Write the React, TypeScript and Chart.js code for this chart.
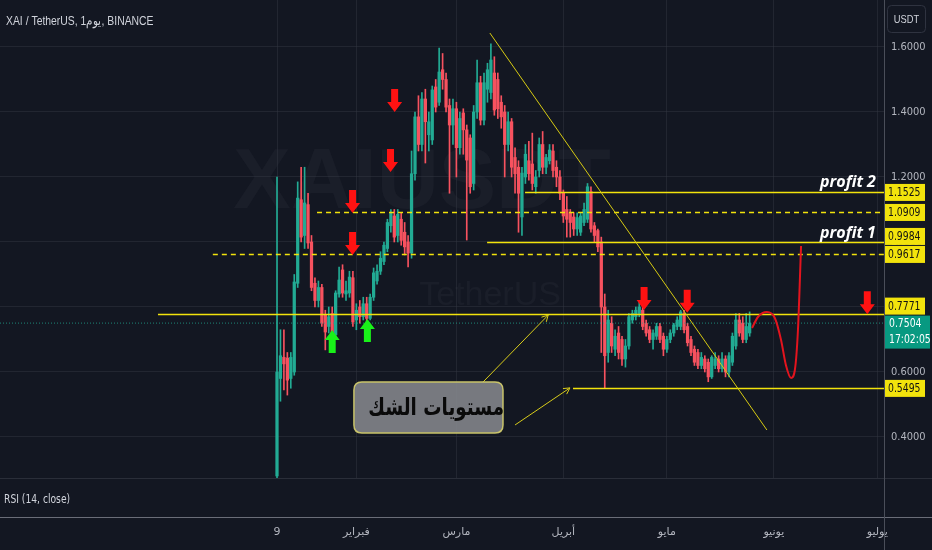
import React, { useEffect, useRef } from 'react';
import { Chart, registerables } from 'chart.js';

Chart.register(...registerables);

// XAI / TetherUS daily candles, first candle 2024-01-09 (x = day offset)
const opens = [
  0.28, 0.58, 0.645, 0.643, 0.58, 0.6, 0.873, 1.13, 1.02, 1.115,
  1.0, 0.873, 0.82, 0.86, 0.775, 0.74, 0.78, 0.715, 0.84, 0.914,
  0.84, 0.843, 0.89, 0.76, 0.8, 0.77, 0.81, 0.765, 0.83, 0.88,
  0.91, 0.94, 0.98, 1.05, 1.08, 1.02, 1.07, 1.03, 1.0, 0.966,
  1.21, 1.385, 1.3, 1.44, 1.33, 1.314, 1.477, 1.43, 1.53, 1.5,
  1.42, 1.36, 1.41, 1.29, 1.397, 1.345, 1.32, 1.18, 1.4, 1.49,
  1.375, 1.47, 1.46, 1.52, 1.5, 1.43, 1.4, 1.3, 1.37, 1.26,
  1.23, 1.077, 1.2, 1.25, 1.24, 1.17, 1.22, 1.3, 1.23, 1.25,
  1.28, 1.23, 1.2, 1.15, 1.1, 1.09, 1.077, 1.04, 1.03, 1.06,
  1.07, 1.155, 1.05, 1.035, 1.0, 0.8, 0.66, 0.75, 0.67, 0.72,
  0.7, 0.64, 0.68, 0.76, 0.77, 0.78, 0.79, 0.75, 0.73, 0.7,
  0.71, 0.74, 0.71, 0.67, 0.7, 0.72, 0.74, 0.74, 0.78, 0.74,
  0.7, 0.67, 0.66, 0.62, 0.64, 0.63, 0.585, 0.62, 0.64, 0.61,
  0.64, 0.6, 0.63, 0.68, 0.76, 0.75, 0.7, 0.72,
];
const highs = [
  1.2, 0.73, 0.73, 0.66, 0.66, 0.9, 1.185, 1.23, 1.23, 1.15,
  1.02, 0.89, 0.88, 0.87, 0.79, 0.8, 0.8, 0.85, 0.923, 0.93,
  0.88, 0.91, 0.91, 0.81, 0.82, 0.83, 0.83, 0.84, 0.92, 0.93,
  0.97, 1.0, 1.07, 1.1, 1.1, 1.1, 1.09, 1.06, 1.02, 1.28,
  1.4, 1.45, 1.46, 1.47, 1.4, 1.48, 1.5, 1.597, 1.58, 1.52,
  1.44, 1.44, 1.43, 1.4, 1.41, 1.36, 1.33, 1.42, 1.56, 1.51,
  1.52, 1.55, 1.61, 1.57, 1.52, 1.45, 1.42, 1.4, 1.38, 1.29,
  1.25, 1.23, 1.3, 1.31, 1.335, 1.22, 1.32, 1.34, 1.27, 1.3,
  1.3, 1.25, 1.22, 1.16, 1.14, 1.1, 1.09, 1.09, 1.09, 1.12,
  1.18, 1.17, 1.06, 1.04, 1.015, 0.84, 0.79, 0.77, 0.73, 0.74,
  0.71, 0.7, 0.78, 0.79, 0.8, 0.815, 0.8, 0.76, 0.74, 0.73,
  0.75, 0.75, 0.72, 0.71, 0.73, 0.75, 0.77, 0.79, 0.79, 0.75,
  0.71, 0.68, 0.67, 0.66, 0.65, 0.64, 0.65, 0.66, 0.65, 0.66,
  0.65, 0.66, 0.72, 0.78, 0.78, 0.77, 0.78, 0.785,
];
const lows = [
  0.27, 0.51, 0.545, 0.529, 0.55, 0.59, 0.86, 1.0, 0.98, 0.98,
  0.85, 0.8, 0.8, 0.74, 0.668, 0.72, 0.69, 0.7, 0.83, 0.83,
  0.82, 0.83, 0.74, 0.73, 0.75, 0.76, 0.755, 0.76, 0.82, 0.87,
  0.9, 0.93, 0.97, 1.03, 1.0, 1.0, 0.99, 0.96, 0.923, 0.95,
  1.19, 1.28, 1.28, 1.243, 1.28, 1.3, 1.4, 1.42, 1.47, 1.4,
  1.15, 1.3, 1.2, 1.27, 1.27, 1.006, 1.15, 1.16, 1.38, 1.36,
  1.36, 1.43, 1.44, 1.39, 1.38, 1.35, 1.2, 1.28, 1.2, 1.15,
  1.03, 1.02, 1.18, 1.19, 1.16, 1.15, 1.2, 1.21, 1.21, 1.24,
  1.2, 1.17, 1.13, 1.06, 1.015, 1.015, 1.02, 1.02, 1.02, 1.05,
  1.06, 1.03, 1.0, 0.97, 0.66, 0.5495, 0.63, 0.66, 0.65, 0.64,
  0.62, 0.615, 0.67, 0.75, 0.76, 0.77, 0.73, 0.71, 0.69, 0.67,
  0.7, 0.69, 0.65, 0.66, 0.69, 0.71, 0.73, 0.73, 0.72, 0.68,
  0.65, 0.62, 0.61, 0.61, 0.6, 0.57, 0.58, 0.61, 0.6, 0.6,
  0.585, 0.585, 0.62, 0.67, 0.71, 0.69, 0.69, 0.71,
];
const closes = [
  0.6, 0.65, 0.625, 0.575, 0.645, 0.877, 1.135, 1.015, 1.12, 0.997,
  0.86, 0.82, 0.86, 0.75, 0.723, 0.77, 0.71, 0.843, 0.883, 0.843,
  0.85, 0.892, 0.754, 0.79, 0.77, 0.81, 0.765, 0.83, 0.905, 0.91,
  0.95, 0.99, 1.06, 1.09, 1.015, 1.085, 1.005, 0.985, 0.966, 1.21,
  1.385, 1.3, 1.44, 1.37, 1.37, 1.468, 1.415, 1.523, 1.5, 1.415,
  1.36, 1.41, 1.29, 1.38, 1.345, 1.252, 1.17, 1.4, 1.49, 1.375,
  1.49, 1.53, 1.56, 1.406, 1.41, 1.385, 1.3, 1.37, 1.23, 1.21,
  1.15, 1.212, 1.27, 1.21, 1.18, 1.2, 1.3, 1.23, 1.26, 1.283,
  1.22, 1.2, 1.15, 1.08, 1.07, 1.06, 1.04, 1.075, 1.08, 1.1,
  1.17, 1.04, 1.02, 0.985, 0.8, 0.65, 0.76, 0.68, 0.71, 0.66,
  0.64, 0.68, 0.77, 0.78, 0.79, 0.8, 0.74, 0.72, 0.7, 0.72,
  0.74, 0.7, 0.67, 0.7, 0.72, 0.745, 0.76, 0.785, 0.73, 0.69,
  0.66, 0.63, 0.62, 0.645, 0.61, 0.585, 0.645, 0.64, 0.61, 0.64,
  0.6, 0.65, 0.71, 0.76, 0.72, 0.7, 0.74, 0.7504,
];

const dateTickDays = [0, 23, 52, 83, 113, 144, 174];
const dateTickLabels = ['9', 'فبراير', 'مارس', 'أبريل', 'مايو', 'يونيو', 'يوليو'];
const priceTicks = [0.4, 0.6, 0.8, 1.0, 1.2, 1.4, 1.6];

const levelPrices = [1.1525, 1.0909, 0.9984, 0.9617, 0.7771, 0.5495];
const levelStartDays = [71.9, 11.6, 60.9, -18.6, -34.5, 85.8];
const levelDashed = [false, true, false, true, false, false];

const currentPrice = 0.7504;
const currentTimer = '17:02:05';

const trendDays = [61.7, 142.0];
const trendPrices = [1.643, 0.4215];

const projDays = [137.7, 139.4, 142.0, 144.3, 146.1, 147.5, 149.0, 150.1, 151.0, 151.9];
const projPrices = [0.7354, 0.7692, 0.7846, 0.7662, 0.6985, 0.6215, 0.5815, 0.6062, 0.7292, 0.9877];

const sellArrowDays = [34.1, 32.9, 21.9, 21.9, 106.4, 118.9, 171.1];
const sellArrowPrices = [1.4, 1.215, 1.089, 0.96, 0.791, 0.782, 0.778];
const buyArrowDays = [16.0, 26.2];
const buyArrowPrices = [0.729, 0.763];

const calloutText = 'مستويات الشك';
const calloutDays = [22.3, 65.5];
const calloutPrices = [0.569, 0.412];
const pointerFromDays = [59.7, 69.0];
const pointerFromPrices = [0.569, 0.437];
const pointerToDays = [78.6, 84.9];
const pointerToPrices = [0.775, 0.551];

const profitLabels = ['profit 2', 'profit 1'];
const profitPrices = [1.1525, 0.9984];
const profitEndDay = 173.6;

const titleText = 'XAI / TetherUS, 1يوم, BINANCE';

const X_MIN = -80.29;
const X_MAX = 175.94;
const Y_MIN = 0.1538;
const Y_MAX = 1.7446;

const BG = '#131722';
const UP = '#22ab94';
const DOWN = '#f7525f';
const YELLOW = '#f2e30c';
const GRID = 'rgba(54,58,69,0.45)';
const AXIS_TEXT = '#b2b5be';
const NARROW = "'DejaVu Sans Condensed', 'Liberation Sans Narrow', 'Arial Narrow', 'Liberation Sans', sans-serif";

function drawBlockArrow(ctx: CanvasRenderingContext2D, x: number, tipY: number, dir: number, color: string) {
  const headH = 10, headW = 15, shaftW = 7, shaftH = 13;
  ctx.fillStyle = color;
  ctx.beginPath();
  ctx.moveTo(x, tipY);
  ctx.lineTo(x - headW / 2, tipY - dir * headH);
  ctx.lineTo(x - shaftW / 2, tipY - dir * headH);
  ctx.lineTo(x - shaftW / 2, tipY - dir * (headH + shaftH));
  ctx.lineTo(x + shaftW / 2, tipY - dir * (headH + shaftH));
  ctx.lineTo(x + shaftW / 2, tipY - dir * headH);
  ctx.lineTo(x + headW / 2, tipY - dir * headH);
  ctx.closePath();
  ctx.fill();
}

function roundRect(ctx: CanvasRenderingContext2D, x: number, y: number, w: number, h: number, r: number) {
  ctx.beginPath();
  ctx.moveTo(x + r, y);
  ctx.lineTo(x + w - r, y);
  ctx.quadraticCurveTo(x + w, y, x + w, y + r);
  ctx.lineTo(x + w, y + h - r);
  ctx.quadraticCurveTo(x + w, y + h, x + w - r, y + h);
  ctx.lineTo(x + r, y + h);
  ctx.quadraticCurveTo(x, y + h, x, y + h - r);
  ctx.lineTo(x, y + r);
  ctx.quadraticCurveTo(x, y, x + r, y);
  ctx.closePath();
}

function fillTextSquashed(ctx: CanvasRenderingContext2D, text: string, x: number, y: number, sx: number) {
  ctx.save();
  ctx.translate(x, y);
  ctx.scale(sx, 1);
  ctx.fillText(text, 0, 0);
  ctx.restore();
}

const overlayPlugin = {
  id: 'tvOverlay',
  beforeDraw(chart: any) {
    const { ctx, width, height } = chart;
    ctx.save();
    ctx.fillStyle = BG;
    ctx.fillRect(0, 0, width, height);
    ctx.fillStyle = 'rgba(130,134,146,0.07)';
    ctx.textAlign = 'center';
    ctx.textBaseline = 'middle';
    ctx.font = "bold 86px 'Liberation Sans', sans-serif";
    ctx.fillText('XAIUSDT', 422, 184);
    ctx.font = "34px 'Liberation Sans', sans-serif";
    ctx.fillText('TetherUS', 490, 296);
    ctx.restore();
  },
  afterDatasetsDraw(chart: any) {
    const { ctx, chartArea } = chart;
    const xs = chart.scales.x;
    const ys = chart.scales.y;
    const px = (d: number) => xs.getPixelForValue(d);
    const py = (p: number) => ys.getPixelForValue(p);
    const right = chartArea.right;
    ctx.save();

    // RSI pane
    ctx.fillStyle = BG;
    ctx.fillRect(0, 479, right, chartArea.bottom - 479);
    ctx.strokeStyle = '#2a2e39';
    ctx.lineWidth = 1;
    ctx.beginPath();
    ctx.moveTo(0, 478.5);
    ctx.lineTo(932, 478.5);
    ctx.stroke();
    ctx.strokeStyle = '#6a6d78';
    ctx.beginPath();
    ctx.moveTo(0, chartArea.bottom + 0.5);
    ctx.lineTo(932, chartArea.bottom + 0.5);
    ctx.stroke();
    ctx.strokeStyle = '#4a4e59';
    ctx.beginPath();
    ctx.moveTo(right + 0.5, 0);
    ctx.lineTo(right + 0.5, 550);
    ctx.stroke();
    ctx.fillStyle = '#d1d4dc';
    ctx.font = `12px ${NARROW}`;
    ctx.textAlign = 'left';
    ctx.textBaseline = 'middle';
    fillTextSquashed(ctx, 'RSI (14, close)', 4, 500, 0.85);

    // pointers from callout
    ctx.strokeStyle = '#d8cc1a';
    ctx.lineWidth = 1;
    for (let i = 0; i < pointerFromDays.length; i++) {
      const x1 = px(pointerFromDays[i]), y1 = py(pointerFromPrices[i]);
      const x2 = px(pointerToDays[i]), y2 = py(pointerToPrices[i]);
      ctx.beginPath();
      ctx.moveTo(x1, y1);
      ctx.lineTo(x2, y2);
      const a = Math.atan2(y2 - y1, x2 - x1);
      ctx.moveTo(x2 - 7 * Math.cos(a - 0.5), y2 - 7 * Math.sin(a - 0.5));
      ctx.lineTo(x2, y2);
      ctx.lineTo(x2 - 7 * Math.cos(a + 0.5), y2 - 7 * Math.sin(a + 0.5));
      ctx.stroke();
    }

    // callout box
    const bx = px(calloutDays[0]), bx2 = px(calloutDays[1]);
    const by = py(calloutPrices[0]), by2 = py(calloutPrices[1]);
    roundRect(ctx, bx, by, bx2 - bx, by2 - by, 8);
    ctx.fillStyle = 'rgba(128,130,136,0.92)';
    ctx.fill();
    ctx.strokeStyle = '#c9c46a';
    ctx.lineWidth = 1.5;
    ctx.stroke();
    ctx.fillStyle = '#0a0a0a';
    ctx.font = "bold 24px 'DejaVu Sans', sans-serif";
    ctx.textAlign = 'right';
    ctx.textBaseline = 'middle';
    fillTextSquashed(ctx, calloutText, bx2 + 1, (by + by2) / 2 + 1, 0.76);

    // signal arrows
    for (let i = 0; i < sellArrowDays.length; i++) {
      drawBlockArrow(ctx, px(sellArrowDays[i]), py(sellArrowPrices[i]), 1, '#ff1212');
    }
    for (let i = 0; i < buyArrowDays.length; i++) {
      drawBlockArrow(ctx, px(buyArrowDays[i]), py(buyArrowPrices[i]), -1, '#19f219');
    }

    // profit labels
    ctx.fillStyle = '#ffffff';
    ctx.font = "italic bold 16px 'Open Sans', sans-serif";
    ctx.textAlign = 'right';
    ctx.textBaseline = 'alphabetic';
    for (let i = 0; i < profitLabels.length; i++) {
      ctx.fillText(profitLabels[i], px(profitEndDay), py(profitPrices[i]) - 5);
    }

    // price axis labels
    type Lab = { text: string; top: number; h: number; cur: boolean };
    const labs: Lab[] = levelPrices.map((p) => ({ text: p.toFixed(4), top: py(p) - 8.5, h: 17, cur: false }));
    labs.push({ text: currentPrice.toFixed(4), top: py(currentPrice) - 7.5, h: 33, cur: true });
    labs.sort((a, b) => a.top - b.top);
    for (let i = labs.length - 2; i >= 0; i--) {
      const lim = labs[i + 1].top - 1;
      if (labs[i].top + labs[i].h > lim) labs[i].top = lim - labs[i].h;
    }
    ctx.textAlign = 'left';
    ctx.textBaseline = 'middle';
    ctx.font = `12px ${NARROW}`;
    for (const l of labs) {
      if (l.cur) {
        ctx.fillStyle = '#089981';
        ctx.fillRect(right + 1, l.top, 45, l.h);
        ctx.fillStyle = '#ffffff';
        fillTextSquashed(ctx, l.text, right + 5, l.top + 8.5, 0.86);
        fillTextSquashed(ctx, currentTimer, right + 5, l.top + 24.5, 0.86);
      } else {
        ctx.fillStyle = YELLOW;
        ctx.fillRect(right + 1, l.top, 40, l.h);
        ctx.fillStyle = '#131313';
        fillTextSquashed(ctx, l.text, right + 4, l.top + l.h / 2 + 0.5, 0.86);
      }
    }

    // title
    ctx.fillStyle = '#d1d4dc';
    ctx.font = "13px 'Liberation Sans', sans-serif";
    ctx.textAlign = 'left';
    fillTextSquashed(ctx, titleText, 6, 21, 0.8);

    // currency button
    roundRect(ctx, 887.5, 5.5, 38, 27, 4);
    ctx.strokeStyle = '#2f3340';
    ctx.lineWidth = 1;
    ctx.stroke();
    ctx.fillStyle = '#d1d4dc';
    ctx.font = "11px 'Liberation Sans', sans-serif";
    ctx.textAlign = 'center';
    fillTextSquashed(ctx, 'USDT', 906.5, 19.5, 0.85);

    ctx.restore();
  },
};

export default function App() {
  const ref = useRef<HTMLCanvasElement>(null);
  useEffect(() => {
    document.body.style.margin = '0';
    const idx = opens.map((_, i) => i);
    const colors = opens.map((o, i) => (closes[i] >= o ? UP : DOWN));
    const levelSets = levelPrices.map((p, i) => ({
      type: 'line' as const,
      data: [{ x: levelStartDays[i], y: p }, { x: X_MAX, y: p }],
      borderColor: YELLOW,
      borderWidth: 1.5,
      borderDash: levelDashed[i] ? [5, 4] : [],
      pointRadius: 0,
      order: 1,
    }));
    const chart = new Chart(ref.current as HTMLCanvasElement, {
      type: 'bar',
      data: {
        datasets: [
          {
            type: 'line',
            data: projDays.map((d, i) => ({ x: d, y: projPrices[i] })),
            borderColor: '#e3141e',
            borderWidth: 2,
            pointRadius: 0,
            cubicInterpolationMode: 'monotone',
            order: 0,
          },
          {
            type: 'line',
            data: trendDays.map((d, i) => ({ x: d, y: trendPrices[i] })),
            borderColor: '#d6ca12',
            borderWidth: 1,
            pointRadius: 0,
            order: 0,
          },
          ...levelSets,
          {
            type: 'line',
            data: [{ x: X_MIN, y: currentPrice }, { x: X_MAX, y: currentPrice }],
            borderColor: 'rgba(34,171,148,0.75)',
            borderWidth: 1,
            borderDash: [1, 2],
            pointRadius: 0,
            order: 2,
          },
          {
            type: 'bar',
            data: idx.map((i) => ({ x: i, y: [opens[i], closes[i]] })) as any,
            backgroundColor: colors,
            barThickness: 2.6,
            grouped: false,
            borderWidth: 0,
            order: 3,
          },
          {
            type: 'bar',
            data: idx.map((i) => ({ x: i, y: [lows[i], highs[i]] })) as any,
            backgroundColor: colors,
            barThickness: 1,
            grouped: false,
            borderWidth: 0,
            order: 4,
          },
        ] as any,
      },
      options: {
        responsive: false,
        maintainAspectRatio: false,
        devicePixelRatio: 1,
        animation: false,
        layout: { padding: 0 },
        plugins: { legend: { display: false }, tooltip: { enabled: false } },
        scales: {
          x: {
            type: 'linear',
            min: X_MIN,
            max: X_MAX,
            offset: false,
            position: 'bottom',
            grid: { color: GRID, drawTicks: false, offset: false },
            border: { display: false },
            afterBuildTicks: (s: any) => {
              s.ticks = dateTickDays.map((v) => ({ value: v }));
            },
            afterFit: (s: any) => {
              s.height = 33;
              s.paddingLeft = 0;
              s.paddingRight = 0;
            },
            ticks: {
              autoSkip: false,
              maxRotation: 0,
              padding: 9,
              color: AXIS_TEXT,
              font: { size: 11, family: "'DejaVu Sans', sans-serif" },
              callback: (v: any) => {
                const k = dateTickDays.indexOf(Number(v));
                return k >= 0 ? dateTickLabels[k] : '';
              },
            },
          },
          y: {
            type: 'linear',
            position: 'right',
            min: Y_MIN,
            max: Y_MAX,
            grid: { color: GRID, drawTicks: false },
            border: { display: false },
            afterBuildTicks: (s: any) => {
              s.ticks = priceTicks.map((v) => ({ value: v }));
            },
            afterFit: (s: any) => {
              s.width = 48;
              s.paddingTop = 0;
              s.paddingBottom = 0;
            },
            ticks: {
              padding: 7,
              color: AXIS_TEXT,
              font: { size: 11, family: NARROW },
              callback: (v: any) => Number(v).toFixed(4),
            },
          },
        },
      } as any,
      plugins: [overlayPlugin],
    });
    return () => chart.destroy();
  }, []);
  return (
    <div style={{ position: 'fixed', left: 0, top: 0, width: 932, height: 550, background: BG }}>
      <canvas ref={ref} width={932} height={550} style={{ display: 'block', width: 932, height: 550 }} />
    </div>
  );
}
